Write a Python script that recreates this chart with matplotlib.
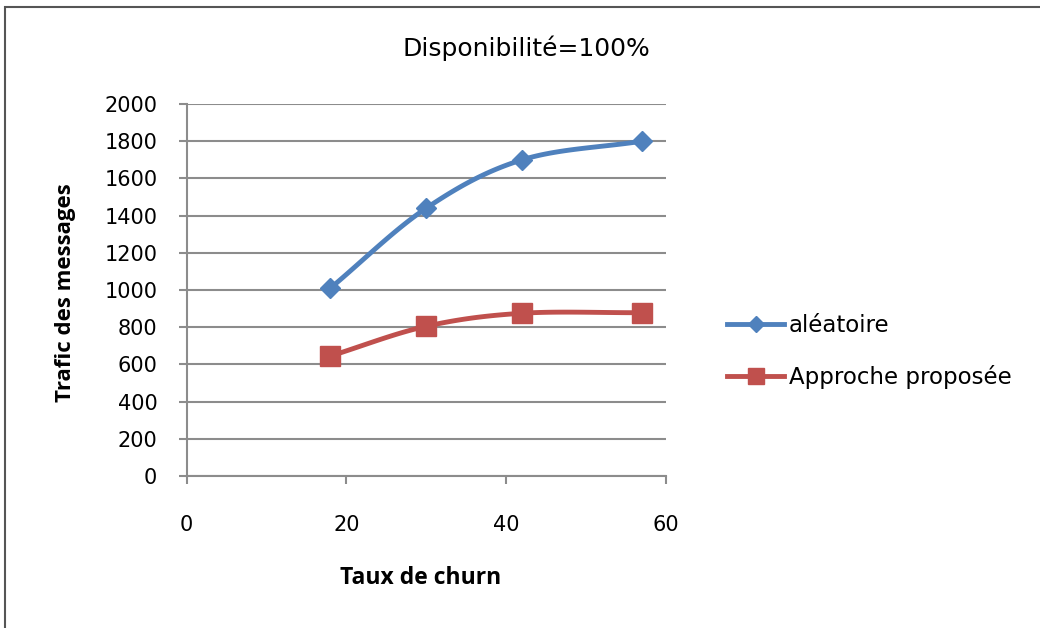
import numpy as np
import matplotlib
matplotlib.use('Agg')
import matplotlib.pyplot as plt
from matplotlib.patches import Rectangle

# données
taux_churn = [18, 30, 42, 57]
trafic_aleatoire = [1010, 1440, 1700, 1800]
trafic_approche = [645, 805, 875, 878]

plt.rcParams['font.family'] = ['DejaVu Sans']


def lisser(x, y, n=30):
    # courbe lissée façon Excel (Catmull-Rom)
    x = np.asarray(x, float)
    y = np.asarray(y, float)
    px = np.concatenate([[2 * x[0] - x[1]], x, [2 * x[-1] - x[-2]]])
    py = np.concatenate([[2 * y[0] - y[1]], y, [2 * y[-1] - y[-2]]])
    xs, ys = [], []
    t = np.linspace(0, 1, n)
    for i in range(1, len(px) - 2):
        for arr, out in ((px, xs), (py, ys)):
            p0, p1, p2, p3 = arr[i - 1], arr[i], arr[i + 1], arr[i + 2]
            out.extend(0.5 * (2 * p1 + (-p0 + p2) * t
                              + (2 * p0 - 5 * p1 + 4 * p2 - p3) * t ** 2
                              + (-p0 + 3 * p1 - 3 * p2 + p3) * t ** 3))
    return xs, ys


W, H = 1040, 628
fig = plt.figure(figsize=(W / 100, H / 100), dpi=100)
ax = fig.add_axes([186.5 / W, 1 - 476 / H, (666 - 186.5) / W, (476 - 104) / H])

bleu = '#4F81BD'
rouge = '#C0504D'
gris = '#8C8C8C'

xs, ys = lisser(taux_churn, trafic_aleatoire)
ax.plot(xs, ys, color=bleu, lw=3.5, zorder=3)
ax.plot(taux_churn, trafic_aleatoire, ls='none', marker='D', ms=10.5, color=bleu, zorder=4)
xs, ys = lisser(taux_churn, trafic_approche)
ax.plot(xs, ys, color=rouge, lw=3.5, zorder=3)
ax.plot(taux_churn, trafic_approche, ls='none', marker='s', ms=15, color=rouge, zorder=4)

# légende
ax.plot([], [], color=bleu, lw=3.5, marker='D', ms=8, label='aléatoire')
ax.plot([], [], color=rouge, lw=3.5, marker='s', ms=12, label='Approche proposée')
fig.legend(loc='center left', bbox_to_anchor=(727 / W, 1 - 351.5 / H), frameon=False,
           fontsize=16.5, handlelength=2.5, handletextpad=0.2, labelspacing=1.25,
           borderpad=0, borderaxespad=0)

ax.set_xlim(0, 60)
ax.set_ylim(0, 2000)
ax.set_xticks([0, 20, 40, 60])
ax.set_yticks(range(0, 2001, 200))
ax.grid(axis='y', color=gris, lw=1.5)
ax.set_axisbelow(True)
for s in ('top', 'right'):
    ax.spines[s].set_visible(False)
for s in ('left', 'bottom'):
    ax.spines[s].set_color(gris)
    ax.spines[s].set_linewidth(1.5)
ax.tick_params(colors=gris, labelcolor='black', labelsize=15, length=6, width=1.5)
ax.tick_params(axis='y', pad=15)
ax.tick_params(axis='x', pad=22)

fig.text(526 / W, 1 - 48 / H, 'Disponibilité=100%', fontsize=18,
         ha='center', va='center')
fig.text(421 / W, 1 - 578 / H, 'Taux de churn', fontsize=16.5, fontweight='bold',
         family='Open Sans', ha='center', va='center')
fig.text(66 / W, 1 - 293 / H, 'Trafic des messages', fontsize=16, fontweight='bold',
         family='Open Sans', rotation=90, ha='center', va='center')

# cadre du graphique
fig.patches.append(Rectangle((5 / W, -0.1), 1.2, 1 - 7 / H + 0.1,
                             transform=fig.transFigure, fill=False,
                             edgecolor='#555555', lw=1.5))

fig.savefig('out.png', dpi=100)
